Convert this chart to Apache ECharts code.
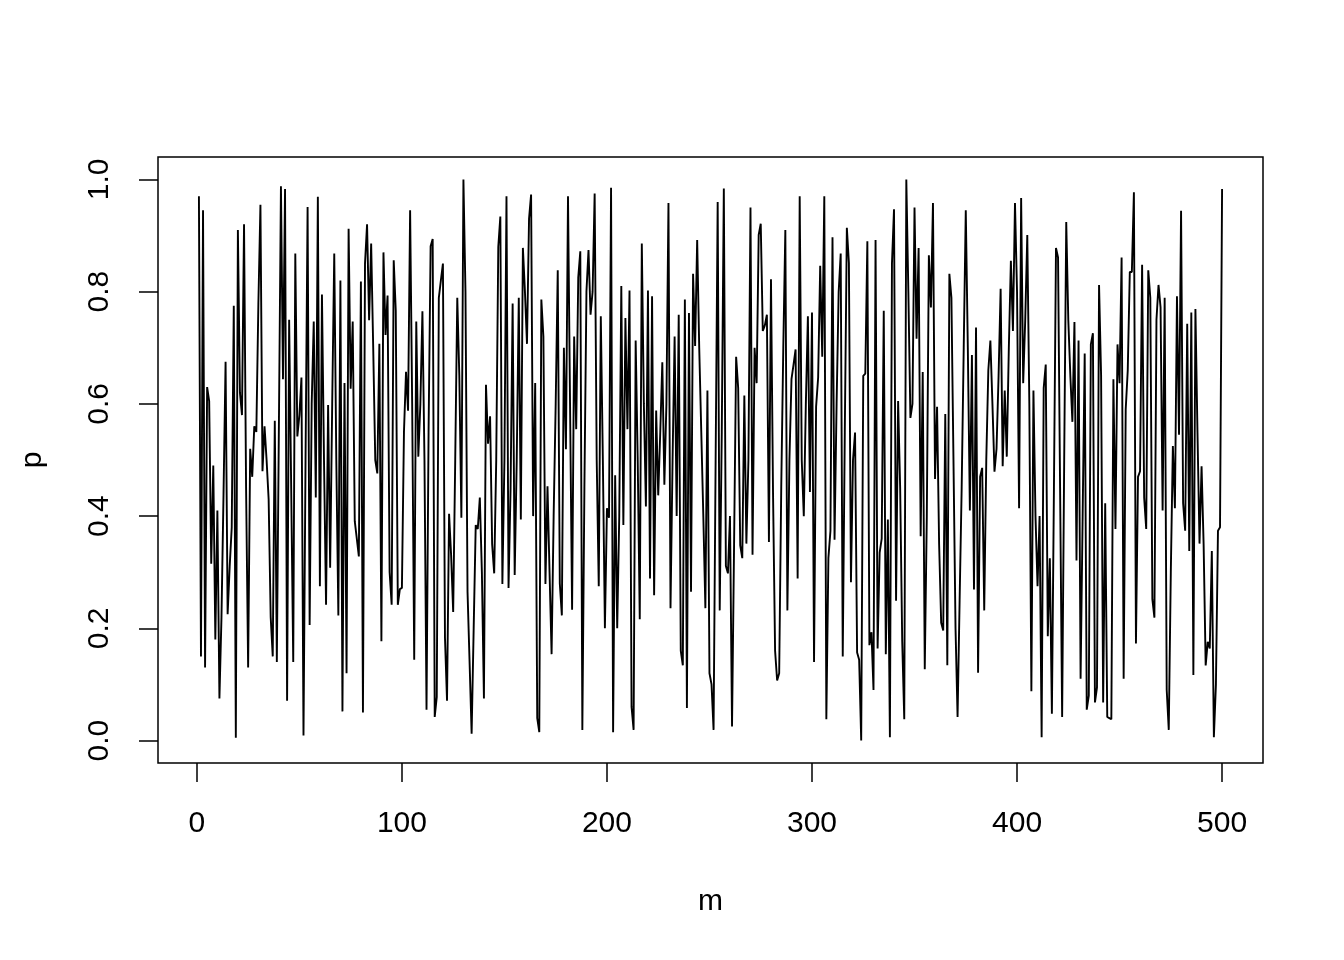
<!DOCTYPE html>
<html>
<head>
<meta charset="utf-8">
<script src="https://cdn.jsdelivr.net/npm/echarts@6/dist/echarts.min.js"></script>
<style>
html,body{margin:0;padding:0;background:#fff;}
#chart{width:1344px;height:960px;}
</style>
</head>
<body>
<div id="chart"></div>
<script>
const pValues = [
0.97,0.15,0.945,0.13,0.63,0.605,0.315,0.49,0.18,0.41,
0.075,0.22,0.44,0.675,0.225,0.31,0.38,0.775,0.005,0.91,
0.62,0.58,0.92,0.45,0.13,0.52,0.47,0.56,0.55,0.78,
0.955,0.48,0.56,0.5,0.43,0.22,0.15,0.57,0.14,0.56,
0.988,0.644,0.983,0.071,0.75,0.45,0.14,0.868,0.542,0.58,
0.647,0.009,0.5,0.951,0.206,0.6,0.747,0.433,0.969,0.275,
0.795,0.5,0.242,0.598,0.308,0.6,0.868,0.5,0.223,0.82,
0.052,0.637,0.12,0.912,0.627,0.747,0.391,0.36,0.328,0.818,
0.05,0.85,0.92,0.749,0.886,0.7,0.5,0.476,0.707,0.177,
0.87,0.723,0.793,0.3,0.242,0.856,0.766,0.242,0.27,0.272,
0.55,0.657,0.588,0.945,0.6,0.144,0.747,0.506,0.6,0.765,
0.5,0.055,0.55,0.881,0.894,0.042,0.078,0.789,0.82,0.85,
0.183,0.071,0.404,0.33,0.229,0.5,0.789,0.65,0.397,1.0,
0.8,0.265,0.14,0.012,0.2,0.384,0.377,0.433,0.3,0.075,
0.634,0.529,0.578,0.35,0.298,0.5,0.88,0.934,0.279,0.5,
0.97,0.272,0.45,0.779,0.295,0.5,0.789,0.394,0.878,0.8,
0.707,0.93,0.973,0.4,0.637,0.04,0.015,0.786,0.72,0.279,
0.453,0.3,0.154,0.4,0.6,0.838,0.28,0.223,0.7,0.519,
0.97,0.6,0.233,0.72,0.555,0.825,0.872,0.019,0.45,0.8,
0.874,0.759,0.8,0.975,0.5,0.275,0.756,0.5,0.2,0.414,
0.397,0.985,0.015,0.473,0.2,0.4,0.81,0.384,0.753,0.555,
0.802,0.06,0.019,0.713,0.5,0.216,0.886,0.6,0.417,0.802,
0.289,0.792,0.259,0.588,0.437,0.55,0.674,0.456,0.6,0.958,
0.236,0.5,0.72,0.4,0.759,0.16,0.134,0.786,0.058,0.762,
0.265,0.832,0.703,0.892,0.7,0.55,0.4,0.236,0.624,0.12,
0.1,0.019,0.5,0.96,0.232,0.55,0.984,0.311,0.298,0.4,
0.025,0.35,0.684,0.628,0.348,0.325,0.615,0.351,0.5,0.95,
0.331,0.7,0.637,0.901,0.921,0.73,0.74,0.759,0.354,0.822,
0.44,0.16,0.107,0.12,0.45,0.7,0.91,0.232,0.5,0.644,
0.67,0.697,0.289,0.97,0.5,0.4,0.6,0.756,0.443,0.763,
0.14,0.595,0.647,0.846,0.684,0.97,0.038,0.325,0.374,0.897,
0.358,0.6,0.799,0.868,0.15,0.55,0.914,0.851,0.282,0.5,
0.549,0.157,0.144,0.0,0.65,0.654,0.89,0.17,0.193,0.09,
0.892,0.164,0.335,0.36,0.766,0.154,0.394,0.006,0.85,0.947,
0.249,0.605,0.45,0.177,0.038,1.0,0.8,0.575,0.6,0.95,
0.716,0.878,0.364,0.657,0.127,0.4,0.865,0.772,0.958,0.466,
0.595,0.35,0.21,0.196,0.582,0.134,0.832,0.789,0.5,0.2,
0.042,0.25,0.45,0.7,0.945,0.7,0.41,0.687,0.269,0.736,
0.121,0.47,0.486,0.232,0.5,0.66,0.713,0.6,0.479,0.52,
0.65,0.805,0.489,0.624,0.506,0.7,0.855,0.73,0.958,0.8,
0.414,0.967,0.637,0.75,0.901,0.6,0.088,0.624,0.4,0.275,
0.4,0.006,0.628,0.67,0.186,0.325,0.048,0.45,0.878,0.861,
0.45,0.042,0.5,0.924,0.75,0.65,0.568,0.746,0.321,0.713,
0.11,0.4,0.69,0.055,0.08,0.706,0.726,0.068,0.095,0.812,
0.65,0.068,0.423,0.042,0.04,0.038,0.644,0.377,0.706,0.637,
0.861,0.11,0.59,0.66,0.835,0.835,0.977,0.173,0.47,0.48,
0.848,0.433,0.377,0.838,0.789,0.252,0.219,0.75,0.812,0.772,
0.41,0.789,0.09,0.019,0.3,0.525,0.414,0.792,0.545,0.944,
0.423,0.374,0.743,0.338,0.763,0.117,0.769,0.55,0.351,0.489,
0.35,0.134,0.176,0.164,0.338,0.006,0.1,0.374,0.38,0.983
];
const mValues = pValues.map((_, i) => i + 1);
const xTicks = [0, 100, 200, 300, 400, 500];
const yTicks = [0.0, 0.2, 0.4, 0.6, 0.8, 1.0];
const xTitle = 'm';
const yTitle = 'p';

const xMin = 1, xMax = mValues.length;
const xPad = (xMax - xMin) * 0.04;
const yMin = Math.min(...pValues), yMax = Math.max(...pValues);
const yPad = (yMax - yMin) * 0.04;

const FONT = 'Liberation Sans, Arial, Helvetica, sans-serif';
const chart = echarts.init(document.getElementById('chart'), null, {renderer: 'canvas'});
chart.setOption({
  animation: false,
  backgroundColor: '#ffffff',
  grid: {
    left: 158, top: 157, right: 81, bottom: 197,
    show: true, borderColor: '#000', borderWidth: 1.5, backgroundColor: 'transparent'
  },
  xAxis: {
    type: 'value',
    position: 'bottom',
    min: xMin - xPad, max: xMax + xPad,
    axisLine: {show: false, onZero: false},
    splitLine: {show: false},
    axisTick: {show: true, inside: false, length: 19, customValues: xTicks, lineStyle: {color: '#000', width: 1.5}},
    axisLabel: {customValues: xTicks, color: '#000', fontSize: 30, fontFamily: FONT, margin: 46,
      formatter: v => String(v)}
  },
  yAxis: {
    type: 'value',
    position: 'left',
    min: yMin - yPad, max: yMax + yPad,
    axisLine: {show: false, onZero: false},
    splitLine: {show: false},
    axisTick: {show: true, inside: false, length: 19, customValues: yTicks, lineStyle: {color: '#000', width: 1.5}},
    axisLabel: {customValues: yTicks, color: '#000', fontSize: 30, fontFamily: FONT, margin: 43, rotate: 90,
      formatter: v => Number(v).toFixed(1)}
  },
  graphic: [
    {type: 'text', style: {text: xTitle, fill: '#000', font: '30px ' + FONT, textAlign: 'center', textVerticalAlign: 'middle'}, x: 710.5, y: 902},
    {type: 'text', style: {text: yTitle, fill: '#000', font: '30px ' + FONT, textAlign: 'center', textVerticalAlign: 'middle'}, x: 33, y: 460, rotation: Math.PI / 2}
  ],
  series: [{
    type: 'line',
    data: mValues.map((m, i) => [m, pValues[i]]),
    showSymbol: false,
    lineStyle: {color: '#000', width: 1.9},
    silent: true
  }]
});
</script>
</body>
</html>
